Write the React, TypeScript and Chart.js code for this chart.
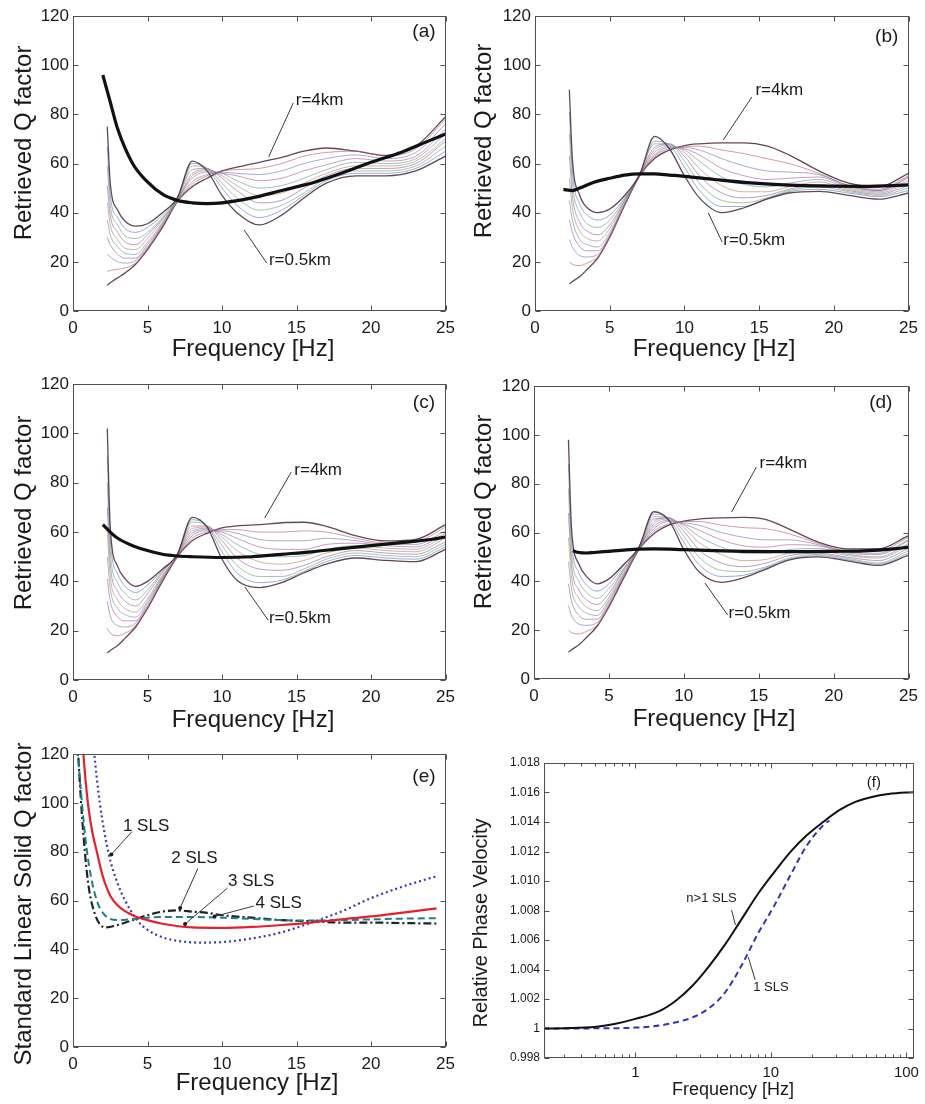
import React, { useEffect, useRef } from 'react';
import { Chart, registerables } from 'chart.js';

Chart.register(...registerables);

const FONT = '"Liberation Sans", Arial, Helvetica, sans-serif';
const INK = '#1a1a1a';

// ---------------- data ----------------
const freqGrid = [2.3, 2.5, 3, 3.5, 4.2, 5, 6, 7, 8, 9, 10, 11, 12.5, 14, 15.5, 17, 19, 21, 23, 25];
const radiiKm = [0.5, 0.9, 1.3, 1.7, 2.1, 2.4, 2.8, 3.2, 3.6, 4.0];

const familyA = [
  [75, 52, 41, 36.5, 34.5, 35.5, 40, 46, 61, 57, 47, 40, 35, 39, 46, 52, 55, 55, 57, 63],
  [67, 47, 38, 33.5, 32, 34, 39, 46, 60, 58, 50, 43, 38, 41, 47, 53, 56, 56, 58, 65],
  [59, 43, 35, 30.5, 29.5, 32, 38, 45.5, 59, 58, 52, 46, 41, 43, 48, 54, 57, 57, 59, 67],
  [51, 39, 32, 28, 27, 31, 37.5, 45.5, 57.5, 58, 54, 49, 44, 45, 50, 55, 58, 58, 60, 69],
  [44, 35, 29, 25.5, 25, 29.5, 37, 45, 56, 57.5, 55, 51, 47, 48, 52, 56, 59, 59, 61, 70],
  [37, 31, 26, 23.5, 23, 28, 36, 45, 55, 57, 56, 53, 50, 51, 54, 57.5, 60.5, 60, 62, 72],
  [30, 27, 23, 21.5, 21.5, 27, 35.5, 45, 54, 56.5, 56, 55, 53, 54, 57, 59.5, 62, 61, 63, 74],
  [23, 22, 20, 19.5, 20.5, 26, 35, 44.5, 52.5, 55.5, 56.5, 56, 55.5, 57, 60, 62, 63.5, 62, 64.5, 76],
  [16, 16.5, 17, 17.5, 19.5, 25.5, 34.5, 44.5, 51.5, 55, 57, 57.5, 58, 60, 63, 64.5, 65, 63, 66, 78],
  [10.5, 11.5, 13.5, 15.5, 19, 25, 34, 44.5, 50.5, 54, 57, 58.5, 60.5, 62.5, 65, 66.3, 65, 63.3, 67, 79],
];
const familyB = [
  [90, 62, 47, 42, 40, 41.5, 47, 55.5, 71, 66, 55, 46, 40, 42, 45.5, 48, 48.7, 47, 45.5, 48],
  [81, 57, 43.5, 39, 37, 39, 46, 55.5, 69, 67.5, 58.5, 49, 42.5, 42.5, 45.5, 48.5, 49.5, 48, 46.5, 49],
  [72, 52, 40, 35.5, 34, 37, 45.5, 55.5, 68, 68, 61, 52, 45, 44, 46, 49, 50.5, 48.5, 47, 50],
  [63, 47, 36, 32.5, 31, 35, 45, 55.5, 66.5, 68, 63, 55, 48, 46, 47, 49.5, 51.5, 49, 47.5, 51],
  [54, 42, 32.5, 29.5, 28.5, 33.5, 44.5, 55.5, 65.5, 67.5, 64.5, 58, 51, 48.5, 48.5, 50.5, 52.5, 49.5, 48, 52],
  [45, 37, 29, 27, 26, 32, 44, 55.5, 64.5, 67, 65.5, 61, 54.5, 51.5, 50.5, 52, 53.5, 50, 48.5, 53],
  [37, 32, 26, 24.5, 24.5, 31, 43.5, 55, 63.5, 66.5, 66, 63.5, 58, 55, 53.5, 54, 54.5, 50.5, 49, 54],
  [29, 26, 22.5, 22, 23, 30.5, 43.5, 55, 63, 66, 66.5, 65.5, 62, 59, 57, 56.5, 55.5, 51, 49, 54.5],
  [20, 19, 18.5, 19.5, 22, 30, 43, 55, 62.5, 65.5, 67, 67, 65.5, 64, 62, 60, 56, 51, 49.5, 55],
  [11, 12, 14, 17, 21.5, 30, 43, 55, 62, 65.5, 67.3, 68, 68.4, 68.4, 67.2, 63.5, 57, 52, 50.5, 56],
];
const familyC = [
  [102, 62, 46, 41, 38, 40, 45, 51, 66, 62, 49, 40.5, 37.5, 39.5, 43.5, 47, 49.5, 48.5, 48, 53],
  [91, 57, 43, 38, 35.5, 38.5, 44.5, 51, 65, 62.5, 52, 43.5, 39.5, 40.5, 44, 48, 50.5, 49.5, 49, 54],
  [80, 52, 39.5, 35, 32.5, 36.5, 44, 51, 64, 62.5, 54.5, 46.5, 42, 42, 45, 49, 51.5, 50.5, 50, 55],
  [70, 47, 36, 32, 30, 35, 43.5, 51, 62.5, 62.5, 56.5, 49.5, 45, 44.5, 46.5, 50, 52.5, 51.5, 51, 56],
  [60, 42, 32.5, 29, 27.5, 33, 42.5, 50.5, 61.5, 62, 58, 52.5, 48, 47, 48.5, 51.5, 53.5, 52.5, 52, 57.5],
  [50, 37, 29, 26.5, 25.5, 32, 42, 50.5, 60.5, 61.5, 59, 55, 51, 50, 50.5, 53, 54.5, 53.5, 53, 58.5],
  [41, 32, 25.5, 24, 24, 31, 41.5, 50.5, 59.5, 61, 60, 57.5, 54, 53, 53, 55, 55.5, 54.5, 54, 59.5],
  [32, 26, 22, 21.5, 23, 30, 41, 50, 58.5, 60.5, 60.5, 59.5, 57, 56.5, 56.5, 57.5, 56.5, 55, 55, 60.5],
  [21, 19, 18, 19, 22, 29.5, 40.5, 50, 57.5, 60, 61, 61, 60, 60, 60.5, 60, 57.5, 55.5, 56, 62],
  [11, 12, 14, 17, 21.5, 29, 40, 50, 56.5, 59.5, 61.7, 62.5, 63, 63.8, 64, 62.3, 58.5, 56.4, 57, 63],
];
const familyD = [
  [98, 62, 47, 42, 39, 41, 47, 54, 68.5, 65, 53, 44, 39.6, 41.5, 45, 48.7, 50, 48.3, 46.5, 50.7],
  [88, 57, 43.5, 38.5, 36, 39, 46.5, 54, 67.5, 65.5, 56, 47, 42, 42.5, 45.5, 49, 50.5, 48.8, 47, 51.5],
  [78, 52, 40, 35.5, 33, 37, 45.5, 54, 66.5, 66, 58.5, 50, 44.5, 44, 46, 49.5, 51, 49.3, 47.5, 52.5],
  [68, 47, 36.5, 32.5, 30.5, 35, 45, 53.5, 65.5, 66, 60.5, 53, 47.5, 46, 47.5, 50.5, 51.5, 49.8, 48.5, 53.5],
  [58, 42, 33, 29.5, 28, 33.5, 44.5, 53.5, 64.5, 66, 62, 56, 51, 48.5, 49, 51.5, 52.5, 50.5, 49.5, 54.5],
  [48, 37, 29.5, 27, 26, 32.5, 43.5, 53.5, 63.5, 65.5, 63, 58.5, 54, 51.5, 51.5, 53, 53.5, 51, 50, 55.5],
  [39, 32, 26, 24.5, 24.5, 31.5, 43, 53.5, 62.5, 65, 63.5, 61, 57, 54.5, 54, 55, 54.5, 51.5, 51, 56.5],
  [30, 26, 22.5, 22, 23, 30.5, 42.5, 53, 61.5, 64.5, 64, 63, 60, 58, 57, 57, 55, 52, 51.5, 57],
  [20, 19, 18.5, 19.5, 22, 30, 42, 53, 60.5, 63.5, 64.5, 64.5, 63, 62, 61.5, 59.5, 55.5, 52.5, 52.5, 58],
  [11, 12, 14, 17, 21.5, 29.5, 41.5, 53, 59.5, 63, 64.7, 65.5, 66, 66.2, 65.3, 61.5, 56, 53.3, 53.3, 58.7],
];

const meanFreqA = [2.0, 2.5, 3, 4, 5, 6, 7, 8, 9, 10, 12, 14, 15, 16, 18, 20, 22, 24, 25];
const meanQA = [96, 85, 74, 60, 52.5, 47.5, 45, 44, 43.7, 44, 46, 49, 50.5, 52, 56, 60.5, 64.5, 69.5, 72];
const meanFreqB = [1.9, 2.5, 3, 4, 5, 6, 7, 8, 9, 10, 12, 14, 16, 18, 20, 22, 24, 25];
const meanQB = [49.5, 49, 50, 52.5, 54, 55.3, 55.8, 55.8, 55.3, 54.8, 53.5, 52.3, 51.5, 51, 50.8, 50.7, 51, 51.3];
const meanFreqC = [2.0, 2.5, 3, 4, 5, 6, 7, 8, 10, 12, 14, 16, 18, 20, 22, 24, 25];
const meanQC = [63, 60, 57.5, 54.5, 52.5, 51, 50.3, 50, 49.7, 50, 51, 52, 53.3, 54.5, 55.7, 57, 58];
const meanFreqD = [2.6, 3, 3.5, 4, 5, 6, 7, 8, 10, 12, 14, 16, 18, 20, 22, 24, 25];
const meanQD = [52.5, 51.8, 51.6, 51.8, 52.3, 52.8, 53.2, 53.3, 53, 52.6, 52.3, 52.2, 52.2, 52.3, 52.5, 53.3, 54];

const qTicks = [0, 20, 40, 60, 80, 100, 120];
const freqTicks = [0, 5, 10, 15, 20, 25];

// panel (e): standard linear solid Q factor
const sls1Freq = [1.0, 1.4, 1.8, 2.4, 3, 3.5, 4.3, 5, 6, 7, 8.5, 10, 12, 14, 16, 18, 20, 22, 24.4];
const sls1Q = [150, 122, 100, 79, 67, 60, 52, 48, 45, 43.5, 42.8, 43, 44.5, 47, 51, 55.5, 61, 65.5, 70];
const sls2Freq = [0.3, 0.6, 1.0, 1.5, 2.2, 3, 4, 5, 6, 7, 8, 9, 10, 12, 14, 16, 18, 20, 22, 24.4];
const sls2Q = [125, 95, 68, 54, 49, 50, 52, 54, 55.5, 56, 55.5, 55, 54, 53, 52, 51.5, 51, 51, 50.8, 50.6];
const sls3Freq = [0.5, 0.7, 1.0, 1.3, 1.6, 2, 2.5, 3, 4, 5, 6, 8, 10, 12, 14, 16, 18, 20, 22, 24.4];
const sls3Q = [140, 120, 100, 88, 80, 70, 62, 58, 54, 52, 50.5, 49, 48.8, 49.2, 50, 51, 52.3, 53.5, 55, 56.8];
const sls4Freq = [0.3, 0.6, 0.9, 1.2, 1.6, 2, 2.5, 3, 4, 5, 6, 8, 10, 12, 14, 16, 18, 20, 22, 24.4];
const sls4Q = [122, 100, 82, 70, 60, 55, 52.5, 52, 52.5, 53, 53.3, 53.3, 53, 52.5, 52, 51.8, 52, 52.3, 52.6, 52.8];

// panel (f): relative phase velocity
const velFreqN = [0.21, 0.3, 0.5, 0.7, 1.0, 1.52, 2.0, 2.64, 3.48, 4.6, 6.07, 8.0, 10.6, 13.9, 18.4, 24.3, 32, 42, 55.7, 73.6, 100, 130];
const velN = [1.0, 1.00002, 1.0001, 1.0003, 1.00065, 1.0012, 1.0019, 1.0029, 1.0042, 1.0057, 1.0074, 1.0091, 1.0106, 1.01196, 1.0131, 1.014, 1.0148, 1.01536, 1.0157, 1.0159, 1.016, 1.01603];
const velFreq1 = [0.21, 0.5, 1, 1.5, 2, 2.64, 3.48, 4.6, 6.07, 8.0, 10.6, 13.9, 18.4, 24.3, 27];
const vel1 = [1.0, 1.00001, 1.00006, 1.0002, 1.00042, 1.00075, 1.00136, 1.00245, 1.00426, 1.0064, 1.00833, 1.01037, 1.0124, 1.01377, 1.0141];
const velTicks = [0.998, 1.0, 1.002, 1.004, 1.006, 1.008, 1.01, 1.012, 1.014, 1.016, 1.018];
const logFreqTicks = [0.3, 0.4, 0.5, 0.6, 0.7, 0.8, 0.9, 1, 2, 3, 4, 5, 6, 7, 8, 9, 10, 20, 30, 40, 50, 60, 70, 80, 90, 100];
const logFreqLabels = [1, 10, 100];

// ---------------- helpers ----------------
const familyPalette = ['#b8576a', '#5d72b8', '#62a070', '#8f5aa0', '#b58258', '#5a93a8', '#a85a88', '#7070b5'];

type Note = { text: string; x: number; y: number; size: number; align?: CanvasTextAlign };
type Leader = { x1: number; y1: number; x2: number; y2: number; dot?: boolean };
type Title = { text: string; cx: number; cy: number; size: number; rotate?: boolean };
type Geo = {
  w: number; h: number; left: number; right: number; top: number; bottom: number;
  yTickPad: number; xTickPad: number;
};

function framePlugin(notes: Note[], leaders: Leader[], titles: Title[]) {
  return {
    id: 'frameNotes',
    afterDraw(chart: any) {
      const { ctx } = chart;
      ctx.save();
      titles.forEach((t) => {
        ctx.save();
        ctx.font = `${t.size}px ${FONT}`;
        ctx.fillStyle = INK;
        ctx.textAlign = 'center';
        ctx.textBaseline = 'middle';
        ctx.translate(t.cx, t.cy);
        if (t.rotate) ctx.rotate(-Math.PI / 2);
        ctx.fillText(t.text, 0, 0);
        ctx.restore();
      });
      ctx.restore();
    },
    afterDatasetsDraw(chart: any) {
      const { ctx, chartArea: a } = chart;
      const xs = chart.scales.x;
      const ys = chart.scales.y;
      ctx.save();
      ctx.strokeStyle = '#505050';
      ctx.lineWidth = 1;
      const L = Math.round(a.left) + 0.5;
      const R = Math.round(a.right) - 0.5;
      const T = Math.round(a.top) + 0.5;
      const B = Math.round(a.bottom) - 0.5;
      ctx.strokeRect(L, T, R - L, B - T);
      ctx.beginPath();
      xs.ticks.forEach((t: any) => {
        const px = Math.round(xs.getPixelForValue(t.value)) + 0.5;
        if (px < L - 1 || px > R + 1) return;
        const len = t.label === '' ? 3 : 5;
        ctx.moveTo(px, B); ctx.lineTo(px, B - len);
        ctx.moveTo(px, T); ctx.lineTo(px, T + len);
      });
      ys.ticks.forEach((t: any) => {
        const py = Math.round(ys.getPixelForValue(t.value)) + 0.5;
        ctx.moveTo(L, py); ctx.lineTo(L + 5, py);
        ctx.moveTo(R, py); ctx.lineTo(R - 5, py);
      });
      ctx.stroke();

      ctx.strokeStyle = '#3a3a3a';
      ctx.fillStyle = '#1a1a1a';
      ctx.lineWidth = 1;
      leaders.forEach((l) => {
        const x1 = xs.getPixelForValue(l.x1), y1 = ys.getPixelForValue(l.y1);
        const x2 = xs.getPixelForValue(l.x2), y2 = ys.getPixelForValue(l.y2);
        ctx.beginPath();
        ctx.moveTo(x1, y1);
        ctx.lineTo(x2, y2);
        ctx.stroke();
        if (l.dot) {
          ctx.beginPath();
          ctx.arc(x2, y2, 2, 0, Math.PI * 2);
          ctx.fill();
        }
      });
      notes.forEach((n) => {
        ctx.font = `${n.size}px ${FONT}`;
        ctx.fillStyle = INK;
        ctx.textAlign = n.align || 'left';
        ctx.textBaseline = 'middle';
        ctx.fillText(n.text, xs.getPixelForValue(n.x), ys.getPixelForValue(n.y));
      });
      ctx.restore();
    },
  };
}

function axisOptions(
  geo: Geo,
  x: { type: string; min: number; max: number; ticks: number[]; label: (v: number) => string; fontSize: number },
  y: { min: number; max: number; ticks: number[]; label: (v: number) => string; fontSize: number },
) {
  return {
    responsive: false,
    animation: false,
    events: [],
    layout: { padding: { left: 0, top: geo.top, right: geo.w - geo.right, bottom: 0 } },
    plugins: { legend: { display: false }, tooltip: { enabled: false } },
    elements: { point: { radius: 0 }, line: { cubicInterpolationMode: 'monotone' } },
    scales: {
      x: {
        type: x.type,
        min: x.min,
        max: x.max,
        afterBuildTicks: (s: any) => { s.ticks = x.ticks.map((v) => ({ value: v })); },
        afterFit: (s: any) => { s.height = geo.h - geo.bottom; },
        grid: { display: false, drawTicks: false },
        border: { display: false },
        ticks: {
          autoSkip: false, maxRotation: 0, minRotation: 0, padding: geo.xTickPad, color: INK,
          font: { family: FONT, size: x.fontSize },
          callback: (v: any) => x.label(Number(v)),
        },
        title: { display: false },
      },
      y: {
        type: 'linear',
        min: y.min,
        max: y.max,
        afterBuildTicks: (s: any) => { s.ticks = y.ticks.map((v) => ({ value: v })); },
        afterFit: (s: any) => { s.width = geo.left; },
        grid: { display: false, drawTicks: false },
        border: { display: false },
        ticks: {
          padding: geo.yTickPad, color: INK,
          font: { family: FONT, size: y.fontSize },
          callback: (v: any) => y.label(Number(v)),
        },
        title: { display: false },
      },
    },
  };
}

type QPanel = {
  family: number[][]; meanF: number[]; meanQ: number[]; tag: string; tagX: number; tagY: number;
  r4: number[]; r05: number[]; geo: Geo; titles: Title[];
};

function qPanelConfig(p: QPanel) {
  const last = p.family.length - 1;
  const datasets: any[] = [
    {
      label: 'retrieved Q (mean)',
      data: p.meanF.map((f, i) => ({ x: f, y: p.meanQ[i] })),
      borderColor: '#111111', borderWidth: 3.2, order: 0,
    },
    ...p.family.map((row, k) => ({
      label: `r=${radiiKm[k]}km`,
      data: freqGrid.map((f, i) => ({ x: f, y: row[i] })),
      borderColor: k === 0 || k === last ? 'rgba(70,40,55,0.85)' : familyPalette[k % familyPalette.length] + 'aa',
      borderWidth: k === 0 || k === last ? 1.3 : 0.9,
      order: 1,
    })),
  ];
  const [t4x, t4y, a4x1, a4y1, a4x2, a4y2] = p.r4;
  const [t05x, t05y, a05x1, a05y1, a05x2, a05y2] = p.r05;
  const notes: Note[] = [
    { text: p.tag, x: p.tagX, y: p.tagY, size: 19, align: 'center' },
    { text: 'r=4km', x: t4x, y: t4y, size: 17 },
    { text: 'r=0.5km', x: t05x, y: t05y, size: 17 },
  ];
  const leaders: Leader[] = [
    { x1: a4x1, y1: a4y1, x2: a4x2, y2: a4y2 },
    { x1: a05x1, y1: a05y1, x2: a05x2, y2: a05y2 },
  ];
  return {
    type: 'line',
    data: { datasets },
    options: axisOptions(
      p.geo,
      { type: 'linear', min: 0, max: 25, ticks: freqTicks, label: (v) => String(v), fontSize: 17 },
      { min: 0, max: 120, ticks: qTicks, label: (v) => String(v), fontSize: 17 },
    ),
    plugins: [framePlugin(notes, leaders, p.titles)],
  };
}

const geoA: Geo = { w: 462, h: 370, left: 73, right: 452, top: 16, bottom: 311, yTickPad: 4, xTickPad: 7 };
const geoB: Geo = { w: 463, h: 370, left: 73, right: 450, top: 16, bottom: 311, yTickPad: 4, xTickPad: 7 };
const geoC: Geo = { w: 462, h: 370, left: 73, right: 452, top: 14, bottom: 310, yTickPad: 4, xTickPad: 7 };
const geoD: Geo = { w: 463, h: 370, left: 72, right: 451, top: 16, bottom: 309, yTickPad: 4, xTickPad: 7 };
const geoE: Geo = { w: 462, h: 364, left: 73, right: 452, top: 12, bottom: 307, yTickPad: 4, xTickPad: 7 };
const geoF: Geo = { w: 463, h: 364, left: 82, right: 459, top: 23, bottom: 318, yTickPad: 4, xTickPad: 6 };

const Q_TITLE = 'Retrieved Q factor';
const F_TITLE = 'Frequency [Hz]';

function configA() {
  return qPanelConfig({
    family: familyA, meanF: meanFreqA, meanQ: meanQA, tag: '(a)', tagX: 23.55, tagY: 113.5, geo: geoA,
    r4: [14.95, 85.8, 14.78, 84.6, 13.13, 62.7],
    r05: [13.15, 20.7, 11.48, 33, 13.0, 19.5],
    titles: [
      { text: Q_TITLE, cx: 24, cy: 143, size: 24, rotate: true },
      { text: F_TITLE, cx: 253, cy: 349, size: 24 },
    ],
  });
}
function configB() {
  return qPanelConfig({
    family: familyB, meanF: meanFreqB, meanQ: meanQB, tag: '(b)', tagX: 23.54, tagY: 111.5, geo: geoB,
    r4: [14.75, 89.9, 14.52, 87.1, 12.6, 69.6],
    r05: [12.6, 28.9, 11.6, 39.9, 12.53, 28.0],
    titles: [
      { text: Q_TITLE, cx: 22.5, cy: 141, size: 24, rotate: true },
      { text: F_TITLE, cx: 252, cy: 349, size: 24 },
    ],
  });
}
function configC() {
  return qPanelConfig({
    family: familyC, meanF: meanFreqC, meanQ: meanQC, tag: '(c)', tagX: 23.55, tagY: 112.3, geo: geoC,
    r4: [14.85, 85.1, 14.64, 84.3, 12.86, 65.7],
    r05: [13.15, 25.1, 11.54, 37.7, 13.1, 24.3],
    titles: [
      { text: Q_TITLE, cx: 24, cy: 143, size: 24, rotate: true },
      { text: F_TITLE, cx: 253, cy: 350, size: 24 },
    ],
  });
}
function configD() {
  return qPanelConfig({
    family: familyD, meanF: meanFreqD, meanQ: meanQD, tag: '(d)', tagX: 23.15, tagY: 113, geo: geoD,
    r4: [15.05, 88.5, 14.84, 86.8, 13.19, 68.4],
    r05: [12.98, 27, 11.41, 39.3, 12.93, 26.2],
    titles: [
      { text: Q_TITLE, cx: 22.5, cy: 142, size: 24, rotate: true },
      { text: F_TITLE, cx: 252, cy: 349, size: 24 },
    ],
  });
}

function configE() {
  const mk = (label: string, f: number[], q: number[], color: string, dash: number[], width: number) => ({
    label, data: f.map((v, i) => ({ x: v, y: q[i] })), borderColor: color, borderDash: dash, borderWidth: width,
  });
  const datasets = [
    mk('3 SLS', sls3Freq, sls3Q, '#e3202c', [], 2.2),
    mk('4 SLS', sls4Freq, sls4Q, '#1f7f86', [7, 4], 2),
    mk('2 SLS', sls2Freq, sls2Q, '#1c2424', [8, 3, 2, 3], 2.2),
    mk('1 SLS', sls1Freq, sls1Q, '#3c3ca8', [2, 3], 2.2),
  ];
  const notes: Note[] = [
    { text: '(e)', x: 23.55, y: 110.7, size: 19, align: 'center' },
    { text: '1 SLS', x: 3.35, y: 90.3, size: 17 },
    { text: '2 SLS', x: 6.6, y: 77.3, size: 17 },
    { text: '3 SLS', x: 10.4, y: 67.9, size: 17 },
    { text: '4 SLS', x: 12.25, y: 59, size: 17 },
  ];
  const leaders: Leader[] = [
    { x1: 3.96, y1: 88.3, x2: 2.57, y2: 78.9, dot: true },
    { x1: 8.38, y1: 73.2, x2: 7.19, y2: 57, dot: true },
    { x1: 10.36, y1: 65.1, x2: 7.52, y2: 50.4, dot: true },
    { x1: 12.14, y1: 57.8, x2: 9.5, y2: 53.5, dot: true },
  ];
  const titles: Title[] = [
    { text: 'Standard Linear Solid Q factor', cx: 24, cy: 164, size: 24, rotate: true },
    { text: F_TITLE, cx: 257, cy: 343, size: 24 },
  ];
  return {
    type: 'line',
    data: { datasets },
    options: axisOptions(
      geoE,
      { type: 'linear', min: 0, max: 25, ticks: freqTicks, label: (v) => String(v), fontSize: 17 },
      { min: 0, max: 120, ticks: qTicks, label: (v) => String(v), fontSize: 17 },
    ),
    plugins: [framePlugin(notes, leaders, titles)],
  };
}

function configF() {
  const datasets = [
    {
      label: 'n>1 SLS', data: velFreqN.map((f, i) => ({ x: f, y: velN[i] })),
      borderColor: '#111111', borderWidth: 2,
    },
    {
      label: '1 SLS', data: velFreq1.map((f, i) => ({ x: f, y: vel1[i] })),
      borderColor: '#3434b4', borderWidth: 2, borderDash: [6, 4],
    },
  ];
  const notes: Note[] = [
    { text: '(f)', x: 57.6, y: 1.01664, size: 15, align: 'center' },
    { text: 'n>1 SLS', x: 2.38, y: 1.00885, size: 13 },
    { text: '1 SLS', x: 7.41, y: 1.00281, size: 13 },
  ];
  const leaders: Leader[] = [
    { x1: 5.13, y1: 1.00803, x2: 5.48, y2: 1.00702 },
    { x1: 7.66, y1: 1.00329, x2: 6.81, y2: 1.00485 },
  ];
  const titles: Title[] = [
    { text: 'Relative Phase Velocity', cx: 19.5, cy: 183, size: 20, rotate: true },
    { text: F_TITLE, cx: 271, cy: 350, size: 18 },
  ];
  return {
    type: 'line',
    data: { datasets },
    options: axisOptions(
      geoF,
      {
        type: 'logarithmic', min: 0.212, max: 114, ticks: logFreqTicks,
        label: (v) => (logFreqLabels.some((m) => Math.abs(m - v) < 1e-9) ? String(v) : ''), fontSize: 15,
      },
      {
        min: 0.998, max: 1.018, ticks: velTicks,
        label: (v) => (Math.abs(v - 1) < 1e-9 ? '1' : v.toFixed(3)), fontSize: 12,
      },
    ),
    plugins: [framePlugin(notes, leaders, titles)],
  };
}

function ChartBox({ build, left, top, w, h }: { build: () => any; left: number; top: number; w: number; h: number }) {
  const ref = useRef<HTMLCanvasElement | null>(null);
  useEffect(() => {
    if (!ref.current) return;
    const chart = new Chart(ref.current, build());
    return () => chart.destroy();
  }, []);
  return (
    <div style={{ position: 'absolute', left, top, width: w, height: h }}>
      <canvas ref={ref} width={w} height={h} style={{ width: w, height: h, display: 'block' }} />
    </div>
  );
}

export default function App() {
  return (
    <div style={{ position: 'absolute', left: 0, top: 0, width: 925, height: 1104, background: '#ffffff', overflow: 'hidden' }}>
      <ChartBox build={configA} left={0} top={0} w={geoA.w} h={geoA.h} />
      <ChartBox build={configB} left={462} top={0} w={geoB.w} h={geoB.h} />
      <ChartBox build={configC} left={0} top={370} w={geoC.w} h={geoC.h} />
      <ChartBox build={configD} left={462} top={370} w={geoD.w} h={geoD.h} />
      <ChartBox build={configE} left={0} top={740} w={geoE.w} h={geoE.h} />
      <ChartBox build={configF} left={462} top={740} w={geoF.w} h={geoF.h} />
    </div>
  );
}
